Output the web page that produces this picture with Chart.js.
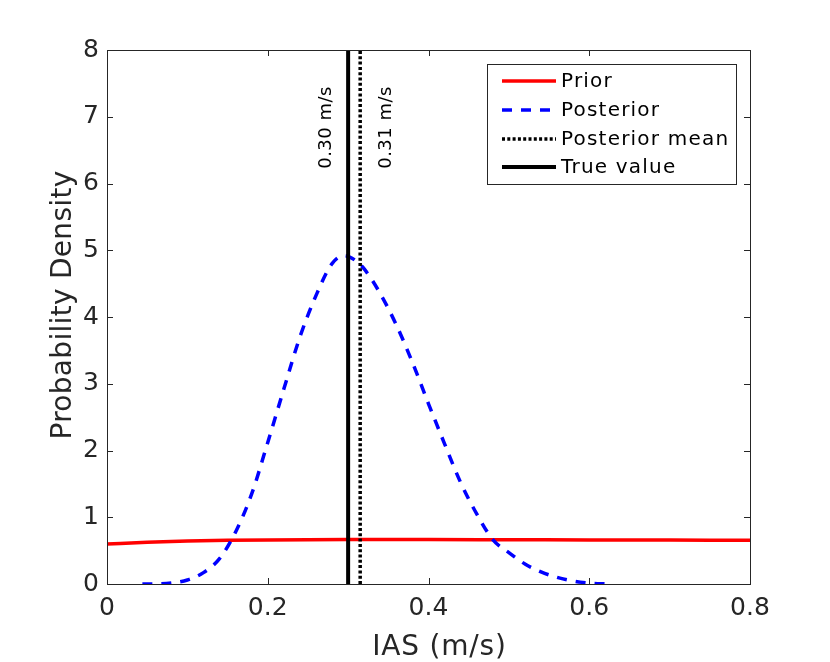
<!DOCTYPE html>
<html><head><meta charset="utf-8">
<script src="https://cdn.jsdelivr.net/npm/chart.js@4/dist/chart.umd.min.js"></script>
<style>html,body{margin:0;padding:0;background:#fff}#wrap{width:830px;height:662px}</style>
</head><body><div id="wrap"><canvas id="c" width="830" height="662"></canvas></div>
<script>
const priorX = [0, 0.05, 0.1, 0.15, 0.2, 0.3, 0.4, 0.5, 0.6, 0.7, 0.8];
const priorY = [0.60, 0.625, 0.643, 0.654, 0.660, 0.665, 0.665, 0.663, 0.661, 0.658, 0.655];
const postX = [0.044,0.06,0.08,0.10,0.12,0.14,0.16,0.18,0.20,0.22,0.24,0.26,0.28,0.295,0.31,0.32,0.34,0.36,0.38,0.40,0.42,0.44,0.46,0.48,0.50,0.52,0.54,0.56,0.58,0.60,0.623];
const postY = [0,0,0.015,0.06,0.17,0.38,0.78,1.35,2.12,2.92,3.70,4.32,4.80,4.92,4.84,4.72,4.35,3.88,3.32,2.70,2.10,1.52,1.05,0.665,0.47,0.30,0.18,0.10,0.045,0.015,0];
const trueValue = 0.30;
const postMean = 0.315;
const trueLabel = "0.30 m/s";
const meanLabel = "0.31 m/s";
const labelBottomY = 6.22;
const xTicks = [0, 0.2, 0.4, 0.6, 0.8];
const yTicks = [0,1,2,3,4,5,6,7,8];
const legendLabels = ["Prior","Posterior","Posterior mean","True value"];
const xTitle = "IAS (m/s)";
const yTitle = "Probability Density";

const FONT = "'DejaVu Sans', sans-serif";
const AX = '#262626';

const zip = (xs, ys) => xs.map((x,i)=>({x, y: ys[i]}));

const frame = {
  id: 'frame',
  afterDraw(chart) {
    const {ctx, chartArea: a, scales: {x, y}} = chart;
    ctx.save();
    ctx.strokeStyle = AX; ctx.lineWidth = 1;
    ctx.strokeRect(a.left + 0.5, a.top + 0.5, a.right - a.left, a.bottom - a.top);
    const L = 6;
    ctx.beginPath();
    xTicks.forEach(v => { const px = Math.round(x.getPixelForValue(v)) + 0.5;
      ctx.moveTo(px, a.bottom); ctx.lineTo(px, a.bottom - L);
      ctx.moveTo(px, a.top); ctx.lineTo(px, a.top + L); });
    yTicks.forEach(v => { const py = Math.round(y.getPixelForValue(v)) + 0.5;
      ctx.moveTo(a.left, py); ctx.lineTo(a.left + L, py);
      ctx.moveTo(a.right, py); ctx.lineTo(a.right - L, py); });
    ctx.stroke();
    // axis titles
    ctx.fillStyle = AX;
    ctx.font = '28px ' + FONT;
    ctx.letterSpacing = '0.8px';
    ctx.textAlign = 'center'; ctx.textBaseline = 'middle';
    ctx.fillText(xTitle, (a.left + a.right) / 2 + 11, 648);
    ctx.letterSpacing = '0.3px';
    ctx.save();
    ctx.translate(64, (a.top + a.bottom) / 2 - 12);
    ctx.rotate(-Math.PI/2);
    ctx.fillText(yTitle, 0, 0);
    ctx.restore();
    // rotated value labels
    ctx.fillStyle = '#000';
    ctx.font = '18px ' + FONT;
    ctx.letterSpacing = '0.5px';
    ctx.textBaseline = 'middle'; ctx.textAlign = 'left';
    const yb = y.getPixelForValue(labelBottomY);
    [[trueValue, -22, trueLabel],[postMean, 26, meanLabel]].forEach(([v, off, t]) => {
      ctx.save();
      ctx.translate(x.getPixelForValue(v) + off, yb);
      ctx.rotate(-Math.PI/2);
      ctx.fillText(t, 0, 0);
      ctx.restore();
    });
    // legend
    const bx = 487, by = 64, bw = 249, bh = 120;
    ctx.fillStyle = '#fff';
    ctx.fillRect(bx, by, bw, bh);
    ctx.strokeStyle = '#262626'; ctx.lineWidth = 1;
    ctx.strokeRect(bx + 0.5, by + 0.5, bw, bh);
    const styles = [
      {c:'#ff0000', w:3.5, d:[]},
      {c:'#0000ff', w:3.5, d:[10,9]},
      {c:'#000000', w:3.5, d:[3,2.3]},
      {c:'#000000', w:4, d:[]}
    ];
    const rows = [81, 110, 139, 167];
    ctx.font = '20px ' + FONT;
    ctx.letterSpacing = '1.2px';
    ctx.textAlign = 'left'; ctx.textBaseline = 'middle';
    legendLabels.forEach((t, i) => {
      const s = styles[i];
      ctx.beginPath();
      ctx.setLineDash(s.d);
      ctx.strokeStyle = s.c; ctx.lineWidth = s.w;
      ctx.moveTo(502, rows[i]); ctx.lineTo(556, rows[i]);
      ctx.stroke();
      ctx.setLineDash([]);
      ctx.fillStyle = '#000';
      ctx.fillText(t, 561, rows[i] + 1);
    });
    ctx.restore();
  }
};

new Chart(document.getElementById('c'), {
  type: 'line',
  data: {
    datasets: [
      {label: 'Prior', data: zip(priorX, priorY), borderColor: '#ff0000', borderWidth: 3.5, pointRadius: 0, cubicInterpolationMode: 'monotone', order: 4},
      {label: 'Posterior', data: zip(postX, postY), borderColor: '#0000ff', borderWidth: 3.5, borderDash: [10,9], pointRadius: 0, cubicInterpolationMode: 'monotone', order: 3},
      {label: 'Posterior mean', data: [{x: postMean, y: 0}, {x: postMean, y: 8}], borderColor: '#000', borderWidth: 3.5, borderDash: [3,2.3], pointRadius: 0, order: 2},
      {label: 'True value', data: [{x: trueValue, y: 0}, {x: trueValue, y: 8}], borderColor: '#000', borderWidth: 4, pointRadius: 0, order: 1}
    ]
  },
  options: {
    responsive: false, animation: false,
    layout: {padding: {left: 0, top: 50, right: 80, bottom: 0}},
    plugins: {legend: {display: false}, tooltip: {enabled: false}},
    scales: {
      x: {
        type: 'linear', min: 0, max: 0.8,
        afterFit: s => { s.height = 78; },
        afterBuildTicks: s => { s.ticks = xTicks.map(v => ({value: v})); },
        grid: {display: false, drawTicks: false},
        border: {display: false},
        ticks: {color: AX, font: {family: FONT, size: 25}, padding: 9, maxRotation: 0,
          callback: v => (v === 0 ? '0' : String(+v.toFixed(1)))}
      },
      y: {
        type: 'linear', min: 0, max: 8,
        afterFit: s => { s.width = 107; },
        afterBuildTicks: s => { s.ticks = yTicks.map(v => ({value: v})); },
        grid: {display: false, drawTicks: false},
        border: {display: false},
        ticks: {color: AX, font: {family: FONT, size: 25}, padding: 8}
      }
    }
  },
  plugins: [frame]
});
</script></body></html>
